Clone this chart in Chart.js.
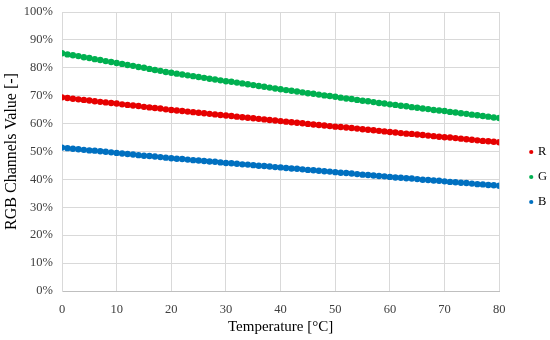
<!DOCTYPE html>
<html>
<head>
<meta charset="utf-8">
<script src="https://cdn.jsdelivr.net/npm/chart.js@4/dist/chart.umd.min.js"></script>
<style>
  html, body { margin: 0; padding: 0; background: #fff; }
  #wrap { width: 550px; height: 340px; }
</style>
</head>
<body>
<div id="wrap"><canvas id="rgbChart"></canvas></div>
<script>
// Temperatura (°C)
const temperatures = [
  0, 1, 2, 3, 4, 5, 6, 7, 8, 9, 10, 11, 12, 13, 14, 15, 16, 17, 18, 19, 20,
  21, 22, 23, 24, 25, 26, 27, 28, 29, 30, 31, 32, 33, 34, 35, 36, 37, 38, 39, 40,
  41, 42, 43, 44, 45, 46, 47, 48, 49, 50, 51, 52, 53, 54, 55, 56, 57, 58, 59, 60,
  61, 62, 63, 64, 65, 66, 67, 68, 69, 70, 71, 72, 73, 74, 75, 76, 77, 78, 79, 80
];

// Canal R (%)
const redValues = [
  69.4, 69.2, 68.9, 68.7, 68.5, 68.3, 68.0, 67.8, 67.6, 67.4, 67.2,
  66.9, 66.7, 66.5, 66.3, 66.0, 65.8, 65.6, 65.4, 65.1, 64.9,
  64.7, 64.5, 64.3, 64.1, 63.9, 63.7, 63.5, 63.3, 63.1, 62.9,
  62.7, 62.5, 62.3, 62.1, 61.9, 61.7, 61.5, 61.3, 61.1, 60.9,
  60.7, 60.5, 60.3, 60.1, 59.9, 59.7, 59.5, 59.3, 59.1, 58.9,
  58.8, 58.6, 58.4, 58.2, 58.0, 57.8, 57.6, 57.4, 57.2, 57.0,
  56.8, 56.6, 56.4, 56.3, 56.1, 55.9, 55.7, 55.5, 55.3, 55.1,
  55.0, 54.8, 54.6, 54.4, 54.2, 54.0, 53.8, 53.7, 53.5, 53.3
];

// Canal G (%)
const greenValues = [
  85.2, 84.8, 84.5, 84.2, 83.8, 83.5, 83.1, 82.8, 82.4, 82.1, 81.7,
  81.4, 81.0, 80.7, 80.3, 80.0, 79.6, 79.2, 78.9, 78.5, 78.2,
  77.9, 77.6, 77.3, 77.0, 76.7, 76.4, 76.1, 75.8, 75.5, 75.2,
  75.0, 74.7, 74.4, 74.1, 73.8, 73.5, 73.2, 72.9, 72.6, 72.3,
  72.0, 71.8, 71.5, 71.2, 70.9, 70.7, 70.4, 70.1, 69.9, 69.6,
  69.3, 69.0, 68.8, 68.5, 68.2, 68.0, 67.7, 67.4, 67.2, 66.9,
  66.7, 66.4, 66.2, 65.9, 65.7, 65.4, 65.2, 64.9, 64.7, 64.5,
  64.2, 64.0, 63.7, 63.5, 63.2, 63.0, 62.7, 62.5, 62.2, 62.0
];

// Canal B (%)
const blueValues = [
  51.4, 51.2, 51.0, 50.8, 50.6, 50.4, 50.3, 50.1, 49.9, 49.7, 49.5,
  49.3, 49.1, 48.9, 48.7, 48.5, 48.4, 48.2, 48.0, 47.8, 47.6,
  47.4, 47.3, 47.1, 46.9, 46.8, 46.6, 46.4, 46.3, 46.1, 45.9,
  45.8, 45.6, 45.4, 45.3, 45.1, 44.9, 44.8, 44.6, 44.4, 44.3,
  44.1, 43.9, 43.8, 43.6, 43.4, 43.3, 43.1, 42.9, 42.8, 42.6,
  42.4, 42.3, 42.1, 41.9, 41.7, 41.6, 41.4, 41.2, 41.1, 40.9,
  40.7, 40.6, 40.4, 40.3, 40.1, 39.9, 39.8, 39.6, 39.5, 39.3,
  39.1, 39.0, 38.8, 38.7, 38.5, 38.3, 38.2, 38.0, 37.9, 37.7
];

const seriesNames = ['R', 'G', 'B'];
const seriesColors = ['#E60000', '#00B050', '#0070C0'];

// Função para montar os pontos (x, y) de uma série
function toPoints(values) {
    return values.map((v, i) => ({ x: temperatures[i], y: v }));
}

const serif = "'Liberation Serif', 'DejaVu Serif', serif";

// Desloca a legenda um pouco para a direita/baixo, como no original
const legendShift = {
    id: 'legendShift',
    afterLayout(chart) {
        const l = chart.legend;
        l.left += 19; l.right += 19;
        l.top += 7; l.bottom += 7;
    }
};

function createRgbChart() {
    const ctx = document.getElementById('rgbChart').getContext('2d');
    const allValues = [redValues, greenValues, blueValues];

    new Chart(ctx, {
        type: 'scatter',
        data: {
            datasets: seriesNames.map((name, i) => ({
                label: name,
                data: toPoints(allValues[i]),
                backgroundColor: seriesColors[i],
                borderColor: seriesColors[i],
                pointRadius: 3.2,
                pointBorderWidth: 0,
                pointHoverRadius: 3.2,
                showLine: false
            }))
        },
        options: {
            responsive: true,
            maintainAspectRatio: false,
            animation: false,
            layout: { padding: { top: 0, right: 12, left: 0, bottom: 0 } },
            scales: {
                x: {
                    type: 'linear',
                    min: 0,
                    max: 80,
                    ticks: {
                        stepSize: 10,
                        color: '#404040',
                        font: { family: serif, size: 12.5 },
                        padding: 11
                    },
                    grid: { color: '#d9d9d9', drawTicks: false },
                    border: { color: '#bfbfbf' },
                    title: {
                        display: true,
                        text: 'Temperature [°C]',
                        color: '#000',
                        font: { family: serif, size: 15 },
                        padding: { top: 4 }
                    },
                    afterFit: s => { s.height = 49; }
                },
                y: {
                    min: 0,
                    max: 100,
                    ticks: {
                        stepSize: 10,
                        color: '#404040',
                        font: { family: serif, size: 12.5 },
                        padding: 9,
                        callback: v => v + '%'
                    },
                    grid: { color: '#d9d9d9', drawTicks: false },
                    border: { color: '#d9d9d9' },
                    title: {
                        display: true,
                        text: 'RGB Channels Value [-]',
                        color: '#000',
                        font: { family: serif, size: 16 },
                        padding: { top: 2, bottom: 0 }
                    },
                    afterFit: s => {
                        s.width = 62;
                        s.paddingTop = 12;
                        s.paddingBottom = 0;
                    }
                }
            },
            plugins: {
                legend: {
                    position: 'right',
                    labels: {
                        usePointStyle: true,
                        pointStyle: 'circle',
                        boxWidth: 1,
                        boxHeight: 3,
                        padding: 12.5,
                        color: '#000',
                        font: { family: serif, size: 12.5 }
                    }
                },
                tooltip: { enabled: false }
            }
        },
        plugins: [legendShift]
    });
}

window.addEventListener('load', createRgbChart);
</script>
</body>
</html>
